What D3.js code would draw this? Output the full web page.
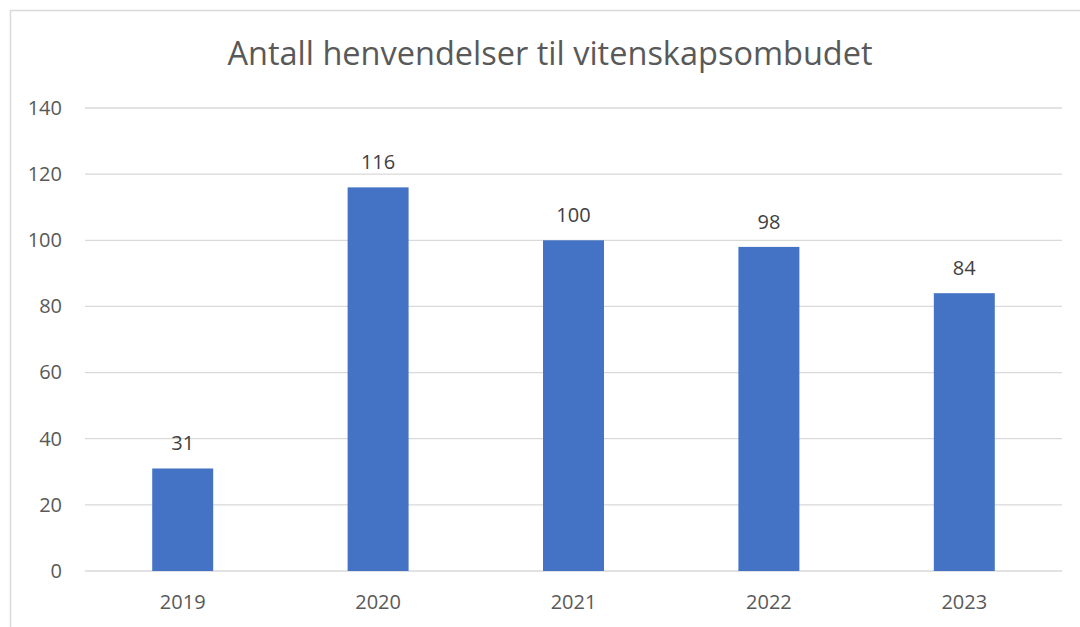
<!DOCTYPE html>
<html>
<head>
<meta charset="utf-8">
<script src="https://cdn.jsdelivr.net/npm/d3@7"></script>
<style>
  body { margin: 0; background: #fff; }
  svg { display: block; font-family: "Open Sans", "Noto Sans", sans-serif; }
</style>
</head>
<body>
<div id="chart"></div>
<script>
// chart data
const years = ["2019", "2020", "2021", "2022", "2023"];
const counts = [31, 116, 100, 98, 84];
const yTicks = [0, 20, 40, 60, 80, 100, 120, 140];
const title = "Antall henvendelser til vitenskapsombudet";

const width = 1080, height = 627;
const margin = {top: 108, right: 18, bottom: 56, left: 85};

const svg = d3.select("#chart").append("svg")
    .attr("width", width)
    .attr("height", height);

// outer frame (only top and left visible)
svg.append("line")
    .attr("x1", 10).attr("x2", width).attr("y1", 10.5).attr("y2", 10.5)
    .attr("stroke", "#d9d9d9").attr("stroke-width", 1.5);
svg.append("line")
    .attr("x1", 10.5).attr("x2", 10.5).attr("y1", 10).attr("y2", height)
    .attr("stroke", "#d9d9d9").attr("stroke-width", 1.5);

const x = d3.scaleBand()
    .domain(years)
    .range([margin.left, width - margin.right])
    .paddingInner(0.688)
    .paddingOuter(0.344);

const y = d3.scaleLinear()
    .domain([0, 140])
    .range([height - margin.bottom, margin.top]);

// gridlines
svg.append("g")
    .selectAll("line")
    .data(yTicks)
    .join("line")
    .attr("x1", margin.left)
    .attr("x2", width - margin.right)
    .attr("y1", d => y(d))
    .attr("y2", d => y(d))
    .attr("stroke", "#d9d9d9")
    .attr("stroke-width", 1.3);

// y axis labels
const yAxis = svg.append("g")
    .attr("transform", `translate(${margin.left - 23},0)`)
    .call(d3.axisLeft(y).tickValues(yTicks).tickSize(0).tickPadding(0));
yAxis.select(".domain").remove();
yAxis.selectAll("text")
    .attr("fill", "#595959")
    .style("font-size", "20px")
    .style("font-family", "'Open Sans', sans-serif");

// x axis labels
const xAxis = svg.append("g")
    .attr("transform", `translate(0,${height - margin.bottom})`)
    .call(d3.axisBottom(x).tickSize(0).tickPadding(24));
xAxis.select(".domain").remove();
xAxis.selectAll("text")
    .attr("fill", "#595959")
    .style("font-size", "20px")
    .style("font-family", "'Open Sans', sans-serif");

// bars
svg.append("g")
    .selectAll("rect")
    .data(counts)
    .join("rect")
    .attr("fill", "#4472c4")
    .attr("x", (d, i) => x(years[i]))
    .attr("y", d => y(d))
    .attr("width", x.bandwidth())
    .attr("height", d => y(0) - y(d));

// value labels
svg.append("g")
    .selectAll("text")
    .data(counts)
    .join("text")
    .attr("x", (d, i) => x(years[i]) + x.bandwidth() / 2)
    .attr("y", d => y(d) - 18)
    .attr("text-anchor", "middle")
    .attr("fill", "#404040")
    .style("font-size", "20px")
    .text(d => d);

// title
svg.append("text")
    .attr("x", 550)
    .attr("y", 65)
    .attr("text-anchor", "middle")
    .attr("fill", "#595959")
    .style("font-size", "32.5px")
    .text(title);
</script>
</body>
</html>
